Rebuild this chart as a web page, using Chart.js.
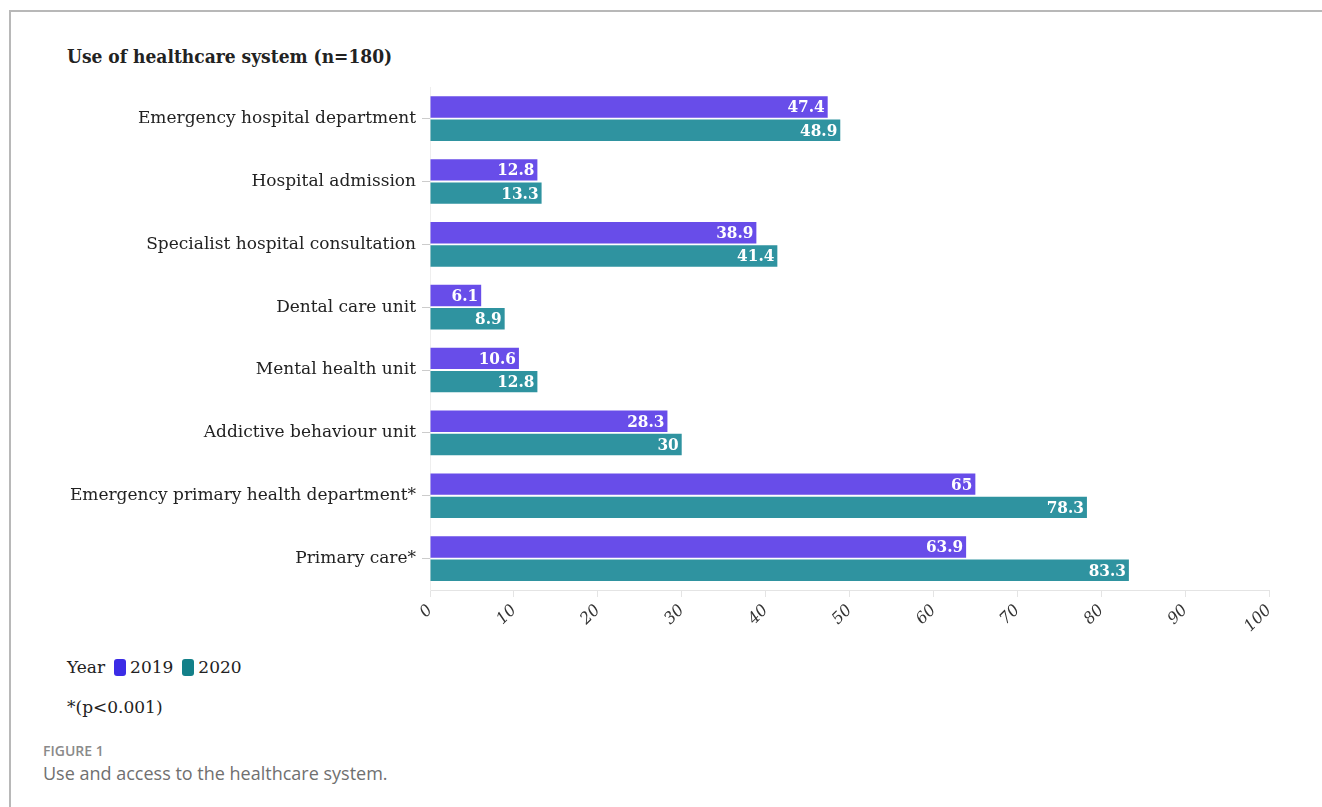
<!DOCTYPE html>
<html>
<head>
    <title>Use of healthcare system</title>
    <script src="https://cdn.jsdelivr.net/npm/chart.js"></script>
    <style>
        body { margin: 0; background: #fff; width: 1322px; height: 807px; overflow: hidden; position: relative; }
        #frame { position: absolute; left: 9px; top: 10px; right: -2px; bottom: -2px; border-top: 2px solid #b8b8b8; border-left: 2px solid #b8b8b8; }
        #title { position: absolute; left: 67px; top: 45px; font: bold 19px "DejaVu Serif Condensed"; color: #222; }
        #wrap { position: absolute; left: 0; top: 71px; width: 1322px; height: 577px; }
        #legend { position: absolute; left: 67px; top: 657px; font: 17px "DejaVu Serif"; color: #222; display: flex; align-items: center; }
        #legend .sw { display: inline-block; width: 12px; height: 17px; border-radius: 3px; margin: 0 4px 0 9px; }
        #note { position: absolute; left: 67px; top: 697px; font: 17px "DejaVu Serif"; color: #222; }
        #fig { position: absolute; left: 43px; top: 741px; font: 600 14px "Open Sans"; color: #8a8a8a; }
        #cap { position: absolute; left: 43px; top: 761px; font: 18px "Open Sans"; color: #707070; }
    </style>
</head>
<body>
    <div id="frame"></div>
    <div id="title">Use of healthcare system (n=180)</div>
    <div id="wrap"><canvas id="chart"></canvas></div>
    <div id="legend"></div>
    <div id="note">*(p&lt;0.001)</div>
    <div id="fig">FIGURE 1</div>
    <div id="cap">Use and access to the healthcare system.</div>

    <script>
        const categories = [
            'Emergency hospital department',
            'Hospital admission',
            'Specialist hospital consultation',
            'Dental care unit',
            'Mental health unit',
            'Addictive behaviour unit',
            'Emergency primary health department*',
            'Primary care*'
        ];
        const values2019 = [47.4, 12.8, 38.9, 6.1, 10.6, 28.3, 65, 63.9];
        const values2020 = [48.9, 13.3, 41.4, 8.9, 12.8, 30, 78.3, 83.3];
        const xTicks = [0, 10, 20, 30, 40, 50, 60, 70, 80, 90, 100];

        const series = [
            { label: '2019', data: values2019, color: '#684de9', swatch: '#3b2ce6' },
            { label: '2020', data: values2020, color: '#2f93a0', swatch: '#138089' }
        ];

        // legend in html
        const legend = document.getElementById('legend');
        legend.innerHTML = 'Year' + series.map(s =>
            '<span class="sw" style="background:' + s.swatch + '"></span>' + s.label).join('');

        // white value labels at the end of each bar
        const barLabels = {
            id: 'barLabels',
            afterDatasetsDraw(chart) {
                const ctx = chart.ctx;
                ctx.save();
                ctx.fillStyle = '#fff';
                ctx.font = 'bold 17px "DejaVu Serif Condensed"';
                ctx.textAlign = 'right';
                ctx.textBaseline = 'middle';
                chart.data.datasets.forEach((ds, i) => {
                    chart.getDatasetMeta(i).data.forEach((bar, j) => {
                        ctx.fillText(String(ds.data[j]), bar.x - 3, bar.y + 1);
                    });
                });
                ctx.restore();
            }
        };

        new Chart(document.getElementById('chart'), {
            type: 'bar',
            data: {
                labels: categories,
                datasets: series.map(s => ({
                    label: s.label,
                    data: s.data,
                    backgroundColor: s.color,
                    categoryPercentage: 0.74,
                    barPercentage: 0.92
                }))
            },
            options: {
                indexAxis: 'y',
                responsive: true,
                maintainAspectRatio: false,
                animation: false,
                layout: { padding: { left: 60, right: 53, top: 1, bottom: 8 } },
                plugins: { legend: { display: false }, tooltip: { enabled: false } },
                scales: {
                    x: {
                        min: 0,
                        max: 100,
                        afterBuildTicks: scale => { scale.ticks = xTicks.map(v => ({ value: v })); },
                        afterFit: scale => { scale.height = 50; },
                        grid: { drawOnChartArea: false, color: '#e4e4e4', tickLength: 7 },
                        border: { color: '#e4e4e4' },
                        ticks: {
                            minRotation: 45,
                            maxRotation: 45,
                            color: '#333',
                            padding: 4,
                            font: { family: 'DejaVu Serif', style: 'italic', size: 16 }
                        }
                    },
                    y: {
                        afterFit: scale => { scale.width = 370; },
                        grid: { drawOnChartArea: false, offset: false, color: '#cccccc', tickLength: 8 },
                        border: { color: '#eeeeee' },
                        ticks: {
                            color: '#222',
                            padding: 6,
                            font: { family: 'DejaVu Serif', size: 17 }
                        }
                    }
                }
            },
            plugins: [barLabels]
        });
    </script>
</body>
</html>
